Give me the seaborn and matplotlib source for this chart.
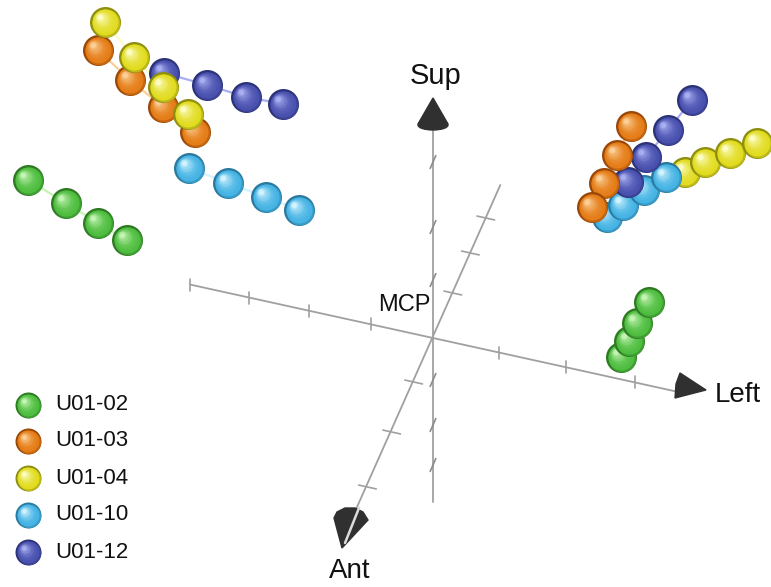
"""
plot.py - projected electrode positions around the MCP origin (Sup / Left / Ant axes).
Coordinates are read from the reference picture: x to the right, y upwards,
origin at the MCP point.
"""

import numpy as np
import pandas as pd
import matplotlib
matplotlib.use("Agg")
import matplotlib.pyplot as plt
from matplotlib.colors import to_rgb
from matplotlib.patches import Polygon, Ellipse
import seaborn as sns

# --- data ---------------------------------------------------------------
SUBJECTS = ["U01-02", "U01-03", "U01-04", "U01-10", "U01-12"]

# left-hand (upper left) cluster, four contacts per subject
LEFT_X = {
    "U01-02": [-405, -367, -335, -306],
    "U01-03": [-335, -303, -270, -238],
    "U01-04": [-328, -299, -270, -245],
    "U01-10": [-244, -205, -167, -134],
    "U01-12": [-269, -226, -187, -150],
}
LEFT_Y = {
    "U01-02": [158, 135, 115, 98],
    "U01-03": [288, 258, 231, 206],
    "U01-04": [316, 281, 251, 224],
    "U01-10": [170, 155, 141, 128],
    "U01-12": [265, 253, 241, 234],
}

# right-hand cluster
RIGHT_X = {
    "U01-02": [188, 196, 204, 216],
    "U01-03": [198, 184, 171, 159],
    "U01-04": [252, 272, 297, 324],
    "U01-10": [174, 190, 211, 233],
    "U01-12": [259, 235, 213, 195],
}
RIGHT_Y = {
    "U01-02": [-19, -3, 15, 36],
    "U01-03": [212, 183, 155, 131],
    "U01-04": [166, 176, 185, 195],
    "U01-10": [121, 133, 148, 161],
    "U01-12": [238, 208, 181, 156],
}

# tick positions along the three anatomical axes
LEFT_AXIS_TICKS = [-243, -184, -124, -62, 66, 133, 202]
SUP_AXIS_TICKS = [176, 111, 58, -42, -87, -127]
ANT_AXIS_TICKS = [120, 85, 45, -44, -94, -149]

# --- colours ------------------------------------------------------------
BASE = {
    "U01-02": "#4fbe40",
    "U01-03": "#e57d18",
    "U01-04": "#e2dc20",
    "U01-10": "#46b4e4",
    "U01-12": "#4a52b0",
}
DARK = {
    "U01-02": "#2e7a22",
    "U01-03": "#9a4808",
    "U01-04": "#8e8e10",
    "U01-10": "#2a7aa0",
    "U01-12": "#2c3278",
}
LIGHT = {
    "U01-02": "#c4f4b4",
    "U01-03": "#fbcf96",
    "U01-04": "#fcfcc4",
    "U01-10": "#d2f2ff",
    "U01-12": "#a8aef0",
}
AXIS_GREY = "#a0a0a0"
CONE_GREY = "#303030"
TEXT = "#111111"

W, H = 771, 587
ORIGIN_PX = (433, 338)


def mix(c1, c2, t):
    a, b = np.array(to_rgb(c1)), np.array(to_rgb(c2))
    return tuple(a + (b - a) * t)


def px_size(r):
    """Marker area (pt^2) for a circle of radius r pixels at dpi 100."""
    return (2 * r * 0.72) ** 2


def draw_sphere(ax, x, y, subj, r, z):
    """Shaded ball: soft dark rim, body colour and an upper-left highlight."""
    sns.scatterplot(x=[x], y=[y], s=px_size(r), color=DARK[subj],
                    linewidth=0, ax=ax, zorder=z, legend=False)
    sns.scatterplot(x=[x + 0.06 * r], y=[y - 0.06 * r], s=px_size(0.9 * r),
                    color=mix(DARK[subj], BASE[subj], 0.55), linewidth=0,
                    ax=ax, zorder=z + 5e-5, legend=False)
    n = 9
    for k in range(n):
        t = k / (n - 1)
        rk = r * (0.84 - 0.68 * t)
        off = 0.34 * r * t
        col = mix(BASE[subj], LIGHT[subj], t ** 1.8)
        ax.scatter([x - off], [y + off], s=px_size(rk), color=col,
                   linewidths=0, zorder=z + (k + 1) * 1e-4)


# build a long table for the points
rows = []
for side, xs, ys in [("left", LEFT_X, LEFT_Y), ("right", RIGHT_X, RIGHT_Y)]:
    for subj in SUBJECTS:
        for i, (x, y) in enumerate(zip(xs[subj], ys[subj])):
            rows.append({"side": side, "subject": subj, "contact": i, "x": x, "y": y})
df = pd.DataFrame(rows)

sns.set_theme(style="white")
plt.rcParams["font.family"] = ["Liberation Sans", "DejaVu Sans"]

fig = plt.figure(figsize=(W / 100, H / 100), dpi=100)
ax = fig.add_axes([0, 0, 1, 1])
ax.set_xlim(-ORIGIN_PX[0], W - ORIGIN_PX[0])
ax.set_ylim(ORIGIN_PX[1] - H, ORIGIN_PX[1])
ax.axis("off")

# --- anatomical axes -----------------------------------------------------
slope_left = -0.22               # Left axis: y = slope * x
ant_dir = np.array([0.44, 1.0])  # Ant axis direction (x per y)

sns.lineplot(x=[-243, 244], y=[-243 * slope_left, 244 * slope_left],
             color=AXIS_GREY, lw=1.3, ax=ax, zorder=1, estimator=None)
ax.plot([0, 0], [-164, 212], color=AXIS_GREY, lw=1.3, zorder=1)
sns.lineplot(x=[153 * 0.44, -80], y=[153, -178], color=AXIS_GREY, lw=1.3,
             ax=ax, zorder=1, sort=False, estimator=None)

# ticks: each axis uses a tick parallel to one of the others
for tx in LEFT_AXIS_TICKS:
    ty = tx * slope_left
    ax.plot([tx, tx], [ty - 6, ty + 6], color=AXIS_GREY, lw=1.2, zorder=1)
u = ant_dir / np.linalg.norm(ant_dir)
for ty in SUP_AXIS_TICKS:
    ax.plot([-7 * u[0], 7 * u[0]], [ty - 7 * u[1], ty + 7 * u[1]],
            color="#8c8c8c", lw=1.2, zorder=1)
v = np.array([1.0, slope_left]) / np.hypot(1.0, slope_left)
for ty in ANT_AXIS_TICKS:
    tx = ty * 0.44
    ax.plot([tx - 9 * v[0], tx + 9 * v[0]], [ty - 9 * v[1], ty + 9 * v[1]],
            color=AXIS_GREY, lw=1.2, zorder=1)

# arrow cones
ax.add_patch(Polygon([(0, 240), (-15, 214), (15, 214)], closed=True,
                     color=CONE_GREY, zorder=1.5))
ax.add_patch(Ellipse((0, 213), 30, 10, color=CONE_GREY, zorder=1.5))
ax.add_patch(Polygon([(273, -52), (247, -35), (243, -46), (242, -60)],
                     closed=True, color=CONE_GREY, zorder=1.5))
ax.add_patch(Polygon([(-91, -210), (-99, -180), (-96, -174), (-88, -170),
                      (-78, -170), (-70, -174), (-65, -182)],
                     closed=True, color=CONE_GREY, zorder=1.5))
ax.plot([-88, -74], [-205, -170], color="#dcdcdc", lw=1.8, zorder=1.6,
        solid_capstyle="round")

ax.text(3, 262, "Sup", fontsize=21, ha="center", va="center", color=TEXT)
ax.text(282, -57, "Left", fontsize=20, ha="left", va="center", color=TEXT)
ax.text(-83, -233, "Ant", fontsize=20, ha="center", va="center", color=TEXT)
ax.text(-3, 33, "MCP", fontsize=17, ha="right", va="center", color=TEXT)

# --- electrode tracks ----------------------------------------------------
for (side, subj), g in df.groupby(["side", "subject"]):
    sns.lineplot(data=g, x="x", y="y", sort=False, estimator=None,
                 color=LIGHT[subj], lw=1.6, ax=ax, zorder=1.8, legend=False)

draw_order = {
    "left": ["U01-12", "U01-03", "U01-04", "U01-10", "U01-02"],
    "right": ["U01-04", "U01-10", "U01-12", "U01-03", "U01-02"],
}
z = 2.0
for side in ["left", "right"]:
    for subj in draw_order[side]:
        g = df[(df.side == side) & (df.subject == subj)]
        for _, p in g.iterrows():
            draw_sphere(ax, p.x, p.y, subj, 15.5, z)
            z += 0.01

# --- legend --------------------------------------------------------------
legend_y = [-67, -103, -140, -177, -214]
for subj, ly in zip(SUBJECTS, legend_y):
    draw_sphere(ax, -405, ly, subj, 13, z)
    z += 0.01
    ax.text(-378, ly, subj, fontsize=16, ha="left", va="center", color=TEXT)

fig.savefig("out.png", dpi=100, facecolor="white")
